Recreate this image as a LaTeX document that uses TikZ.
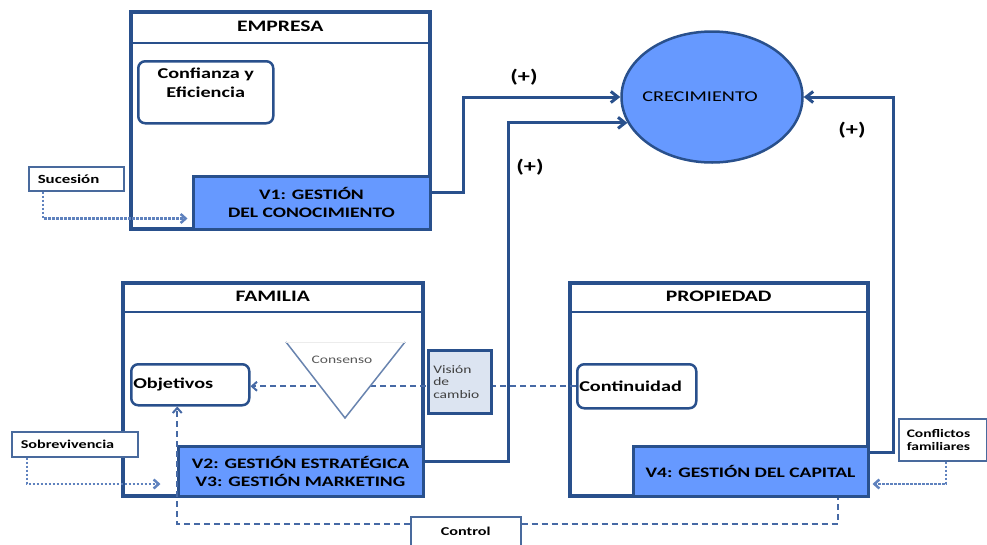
\documentclass[tikz,border=0pt]{standalone}
\usepackage{fontspec}
\setmainfont{Carlito}[FakeStretch=1.35]
\usepackage{tikz}
\usetikzlibrary{shapes,shapes.geometric}
\usetikzlibrary{arrows.meta}
\usetikzlibrary{calc}
\usetikzlibrary{positioning}

\begin{document}
\begin{tikzpicture}[x=1pt, y=-1pt,
 frm/.style={rectangle, draw=frame, line width=3.5pt, inner sep=0pt, anchor=north west},
 ttl/.style={font=\fontsize{16}{18}\selectfont\bfseries, inner sep=0pt},
 band/.style={draw=frame, line width=2.5pt},
 inbox/.style={rectangle, draw=frame, line width=2.5pt, rounded corners=7pt, inner sep=2pt, anchor=north west, font=\fontsize{15}{19}\selectfont\bfseries},
 vbox/.style={rectangle, draw=frame, line width=3pt, fill=vfill, inner sep=0pt, anchor=south east, align=center, font=\fontsize{14.5}{18}\selectfont\bfseries},
 tag/.style={rectangle, draw=frame!85, line width=1.5pt, fill=white, inner ysep=0pt, inner xsep=9pt, anchor=north west, align=left, font=\fontsize{12.5}{13}\selectfont\bfseries},
 plus/.style={font=\fontsize{18}{20}\selectfont\bfseries},
 link/.style={draw=frame, line width=3pt, -{Straight Barb[length=7pt,width=11pt]}},
 dotlink/.style={draw=dotc, line width=2.5pt, dash pattern=on 2.5pt off 1.5pt, -{Straight Barb[length=5pt,width=9pt]}},
 dashlink/.style={draw=dashc, line width=2pt, dash pattern=on 6pt off 4pt}]

    \definecolor{frame}{RGB}{41,80,140}
    \definecolor{vfill}{RGB}{102,153,255}
    \definecolor{vision}{RGB}{220,228,241}
    \definecolor{dotc}{RGB}{95,130,190}
    \definecolor{dashc}{RGB}{70,105,165}

    \useasboundingbox (0,0) rectangle (987,544);

	% empresa
	\node[frm, minimum width=299, minimum height=217] (empresa) at (129,10) {};
	\node[ttl] (empresaT) at ([yshift=-16.5pt]empresa.north) {EMPRESA};
	\draw[band] ([yshift=-33pt]empresa.north west) -- ([yshift=-33pt]empresa.north east);
	\node[inbox, minimum width=135, minimum height=62, align=center] (confianza) at (137,60) {Confianza y\\Eficiencia\\\mbox{}};
	\node[vbox, minimum width=237, minimum height=53] (v1) at (empresa.south east) {V1: GESTIÓN\\DEL CONOCIMIENTO};

	% crecimiento
	\node[ellipse, draw=frame, line width=2.5pt, fill=vfill, minimum width=181, minimum height=131, inner sep=0pt,
	  label={[font=\fontsize{15}{18}\selectfont, xshift=-12pt]center:CRECIMIENTO}] (crec) at (712,97) {};

	% familia
	\node[frm, minimum width=300, minimum height=213] (familia) at (121,281) {};
	\node[ttl] (familiaT) at ([yshift=-15.5pt]familia.north) {FAMILIA};
	\draw[band] ([yshift=-31pt]familia.north west) -- ([yshift=-31pt]familia.north east);
	\node[inbox, text width=114, minimum height=41, align=left] (objetivos) at (130,363) {Objetivos};
	\node[vbox, minimum width=245, minimum height=50] (v2) at (familia.south east) {V2: GESTIÓN ESTRATÉGICA\\V3: GESTIÓN MARKETING};

	% propiedad
	\node[frm, minimum width=298, minimum height=213] (propiedad) at (568,281) {};
	\node[ttl] (propiedadT) at ([yshift=-15.5pt]propiedad.north) {PROPIEDAD};
	\draw[band] ([yshift=-31pt]propiedad.north west) -- ([yshift=-31pt]propiedad.north east);
	\node[inbox, text width=115, minimum height=44, align=left] (continuidad) at (576,363) {Continuidad};
	\node[vbox, minimum width=235, minimum height=50] (v4) at (propiedad.south east) {V4: GESTIÓN DEL CAPITAL};

	% tags
	\node[tag, text width=77, minimum height=24] (sucesion) at (28,166) {Sucesión};
	\node[tag, text width=108, minimum height=25, font=\fontsize{12}{13}\selectfont\bfseries] (sobrev) at (11,431) {Sobrevivencia};
	\node[tag, text width=72, inner xsep=8pt, minimum height=42, font=\fontsize{11.5}{12.5}\selectfont\bfseries] (conflictos) at (898,418) {Conflictos\\familiares};
	\node[tag, align=center, text width=92, minimum height=30, font=\fontsize{12}{13}\selectfont\bfseries] (control) at (410,516) {Control};

	% links to crecimiento
	\draw[link] ([yshift=10pt]v1.east) -- ++(32,0) |- (crec.west);
	\draw[link] ([yshift=10pt]v2.east) -- ++(84,0) |- (crec.197);
	\draw[link] ([yshift=-8pt]v4.north east) -- ++(24,0) |- (crec.east);
	\node[plus] (plusA) at (524,77) {(+)};
	\node[plus] (plusB) at (530,167) {(+)};
	\node[plus] (plusC) at (852,130) {(+)};

	% dotted inputs
	\draw[dotlink, shorten >=4pt] ([xshift=15pt]sucesion.south west) |- ([yshift=-16pt]v1.west);
	\draw[dotlink, shorten >=16pt] ([xshift=16pt]sobrev.south west) |- ([yshift=-13pt]v2.west);
	\draw[dotlink, shorten >=3pt] ([xshift=48pt]conflictos.south west) |- ([yshift=-13pt]v4.east);

	% dashed lines
	\draw[dashlink, -{Straight Barb[length=5pt,width=9pt]}] (continuidad.west) -- (continuidad.west -| objetivos.east);
	\draw[dashlink, -{Straight Barb[length=5pt,width=9pt]}] ([yshift=8pt]control.west) -| ([xshift=-13pt]objetivos.south);
	\draw[dashlink] ([yshift=8pt]control.east) -| ([xshift=87pt]v4.south);

	% consenso and vision
	\draw[draw=frame!70, line width=1.5pt, fill=white] (286,342) -- (345,418) -- (405,342);
	\draw[gray!15, line width=1pt] (286,342) -- (405,342);
	\node[font=\fontsize{11.5}{13}\selectfont, text=black!65] (consenso) at (342,360) {Consenso};
	\node[rectangle, draw=frame, line width=2.5pt, fill=vision, minimum width=63, minimum height=63, inner sep=5pt, text width=53, align=left, anchor=north west, font=\fontsize{11.5}{12.5}\selectfont, text=black!75] (vision) at (427,349) {Visión\\de\\cambio};
\end{tikzpicture}
\end{document}
